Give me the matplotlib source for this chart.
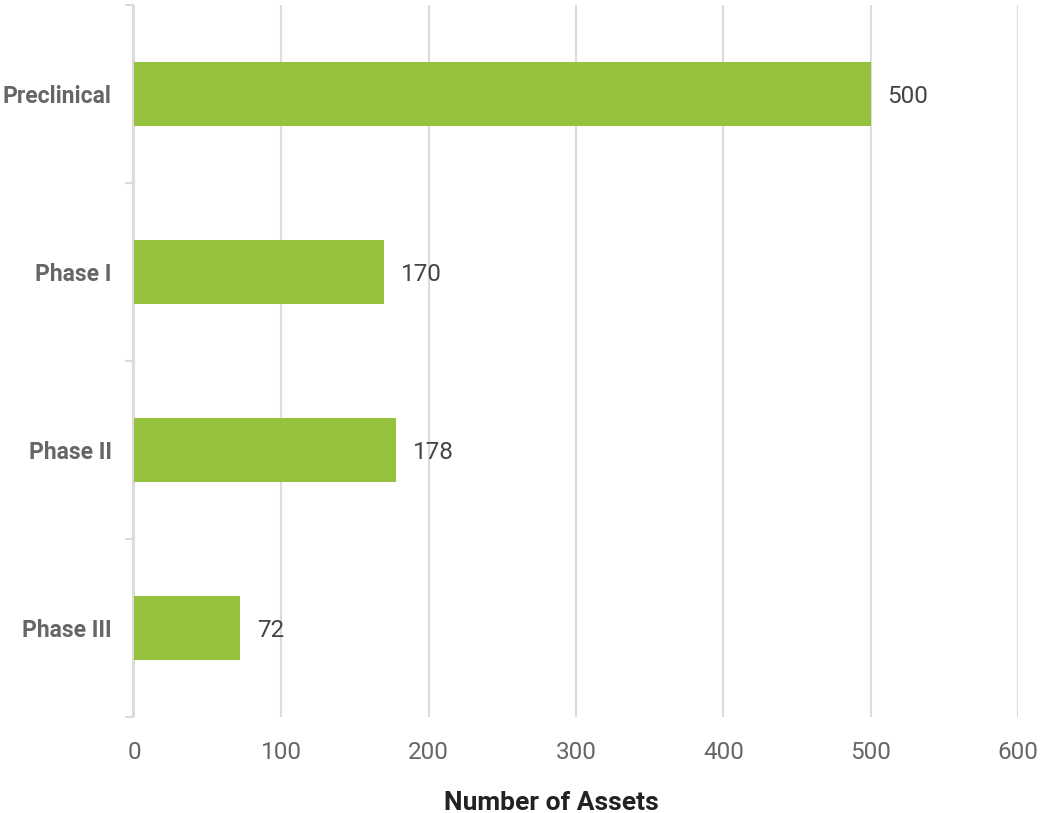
import matplotlib
matplotlib.use("Agg")
import matplotlib.pyplot as plt
import numpy as np

plt.rcParams['font.family'] = ['Roboto', 'DejaVu Sans']

# values
stages = ["Preclinical", "Phase I", "Phase II", "Phase III"]
assets = [500, 170, 178, 72]
x_ticks = [0, 100, 200, 300, 400, 500, 600]

bar_color = "#96c13d"
grid_color = "#dcdcdc"

fig = plt.figure(figsize=(10.41, 8.13), dpi=100)
ax = fig.add_axes([134 / 1041, 96 / 813, 884 / 1041, 712 / 813])

# spines first: set_position resets the ticks
for s in ["top", "right", "bottom"]:
    ax.spines[s].set_visible(False)
ax.spines["left"].set_color(grid_color)
ax.spines["left"].set_linewidth(1.5)
ax.spines["left"].set_position(("outward", 1))

y = np.arange(len(stages))
ax.barh(y, assets, height=0.355, color=bar_color, zorder=3)
ax.set_ylim(len(stages) - 0.5, -0.5)
ax.set_xlim(0, 600)

for yi, v in zip(y, assets):
    ax.annotate(str(v), (v, yi), xytext=(12, -1.5), textcoords="offset points",
                va="center", ha="left", fontsize=17.5, color="#444444")

# band separators as minor ticks
ax.set_yticks(np.arange(-0.5, len(stages)), minor=True)
ax.tick_params(axis="y", which="minor", length=6, width=1.5, color=grid_color)

ax.tick_params(axis="x", length=0, pad=17, labelsize=17.5, labelcolor="#666666")
ax.tick_params(axis="y", which="major", length=0, pad=15, labelsize=16.5, labelcolor="#666666")
ax.set_xticks(x_ticks)
ax.set_xticklabels([str(t) for t in x_ticks])
ax.set_yticks(y)
ax.set_yticklabels(stages, fontweight="bold")

ax.xaxis.grid(True, color=grid_color, linewidth=1.5, zorder=0)

fig.text(551 / 1041, 3 / 813, "Number of Assets", ha="center", va="baseline",
         fontsize=19, fontweight="bold", color="#222222")

plt.savefig("out.png", dpi=100)
